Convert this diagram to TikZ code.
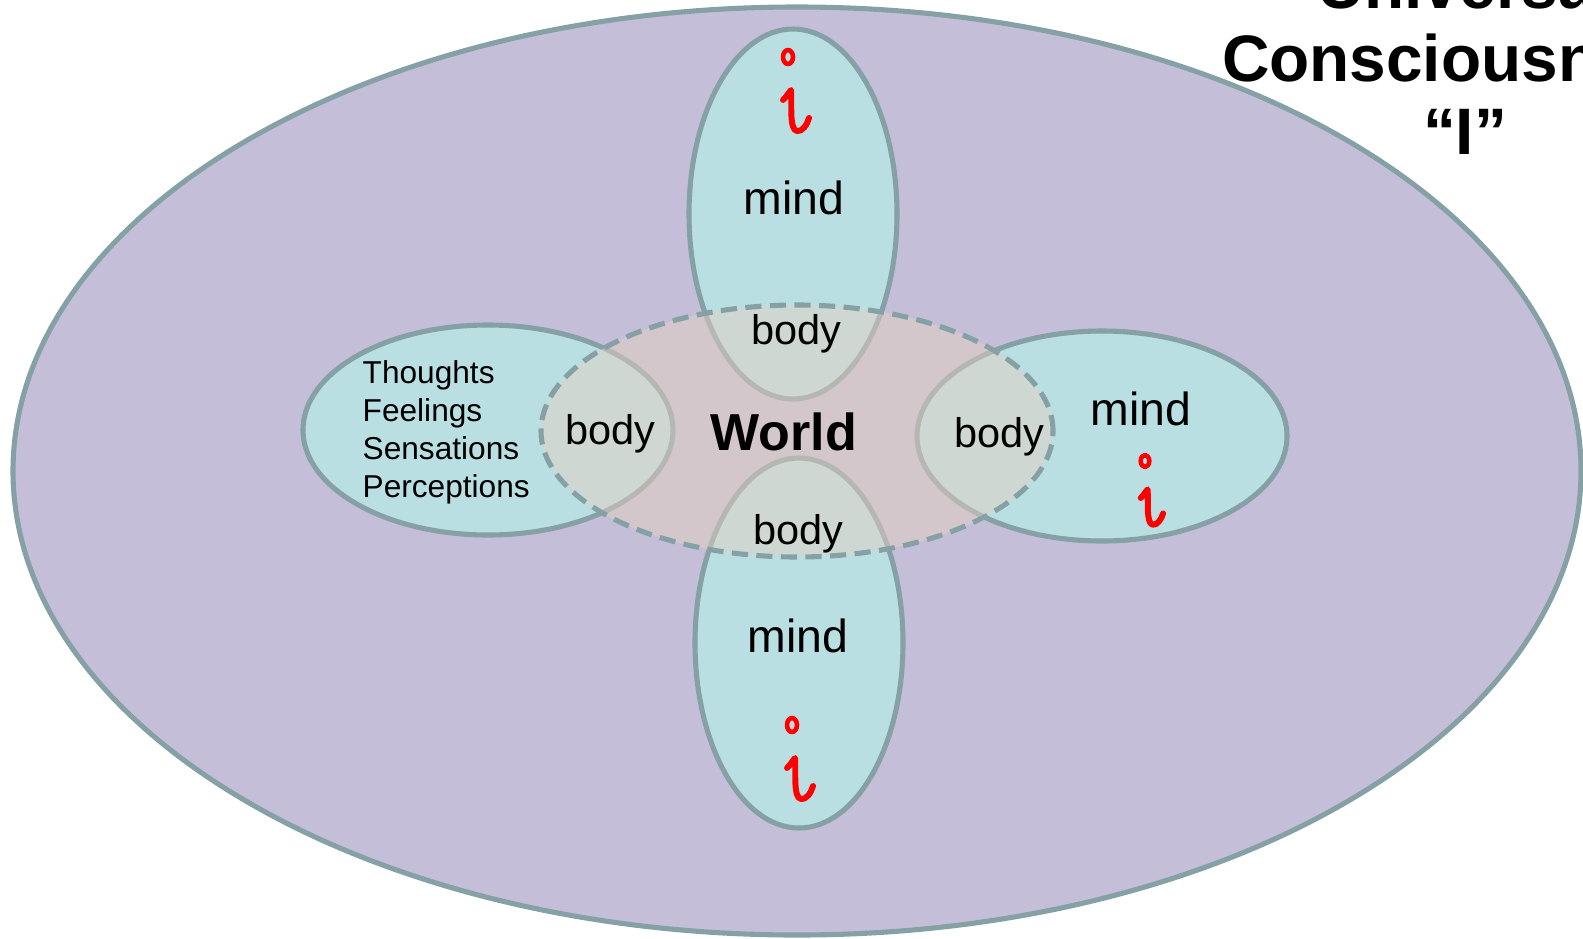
\documentclass[tikz,border=0pt]{standalone}
\usepackage{fontspec}
\setmainfont{Liberation Sans}
\usetikzlibrary{shapes.geometric}
\definecolor{UniPurple}{RGB}{197,190,216}
\definecolor{MindCyan}{RGB}{185,223,227}
\definecolor{RimGray}{RGB}{134,161,165}
\definecolor{WorldTan}{RGB}{228,208,192}
\tikzset{
  blob/.style={ellipse, draw=RimGray, line width=1.45pt, inner sep=0pt},
  universe/.style={blob, fill=UniPurple, minimum width=15.68cm, minimum height=9.28cm},
  mindv/.style={blob, fill=MindCyan, minimum width=2.08cm, minimum height=3.70cm},
  mindh/.style={blob, fill=MindCyan, minimum width=3.70cm, minimum height=2.10cm},
  world/.style={blob, fill=WorldTan, fill opacity=0.5, dash pattern=on 4.6pt off 2.4pt,
    minimum width=5.12cm, minimum height=2.52cm},
  mindlbl/.style={font=\fontsize{13.2}{15}\selectfont, inner sep=0pt},
  bodylbl/.style={font=\fontsize{11.8}{14}\selectfont, inner sep=0pt},
  listlbl/.style={font=\fontsize{9}{10.8}\selectfont, align=left, inner sep=0pt},
  ink/.style={draw=red, line width=1.7pt, line cap=round, line join=round}
}
% hand-drawn red "i", #1 = dot position, #2 = scale
\newcommand{\redi}[2]{%
  \begin{scope}[shift={(#1)}, scale=#2]
    \draw[ink, line width=1.3pt] (0,0) ellipse (0.05 and 0.07);
    \draw[ink] (-0.05,-0.43) .. controls (-0.01,-0.39) and (0.02,-0.34) .. (0.03,-0.33)
      .. controls (0.04,-0.46) and (0.01,-0.73) .. (0.09,-0.74)
      .. controls (0.14,-0.75) and (0.19,-0.68) .. (0.21,-0.61);
  \end{scope}}

\begin{document}
\begin{tikzpicture}
  \useasboundingbox (0,0) rectangle (15.83,-9.38);
  \clip (0,0) rectangle (15.83,-9.38);

  \node[universe] (univ) at (7.97,-4.71) {};
  \node[mindv] (mindtop) at (7.93,-2.14) {};
  \node[mindv] (mindbot) at (7.99,-6.43) {};
  \node[mindh] (mindleft) at (4.88,-4.30) {};
  \node[mindh] (mindright) at (11.02,-4.36) {};
  \node[world] (world) at (7.97,-4.31) {};

  \node[mindlbl] (mtop) at (7.94,-1.98) {mind};
  \node[mindlbl] (mright) at (11.41,-4.09) {mind};
  \node[mindlbl] (mbot) at (7.98,-6.36) {mind};

  \node[bodylbl] (btop) at (7.96,-3.34) {body};
  \node[bodylbl] (bleft) at (6.10,-4.34) {body};
  \node[bodylbl] (bright) at (9.99,-4.37) {body};
  \node[bodylbl] (bbot) at (7.98,-5.34) {body};

  \node[font=\bfseries\fontsize{14.8}{17}\selectfont, inner sep=0pt] (wlbl) at (7.84,-4.32) {World};

  \node[listlbl, anchor=west] (contents) at (3.62,-4.32)
    {Thoughts\\Feelings\\Sensations\\Perceptions};

  \node[font=\bfseries\fontsize{18.7}{20.8}\selectfont, align=center, inner sep=0pt,
    anchor=south] (title) at (14.65,-1.55) {Universal\\Consciousness\\“I”};

  \redi{7.88,-0.57}{1}
  \redi{11.45,-4.61}{0.86}
  \redi{7.92,-7.25}{1}
\end{tikzpicture}
\end{document}
